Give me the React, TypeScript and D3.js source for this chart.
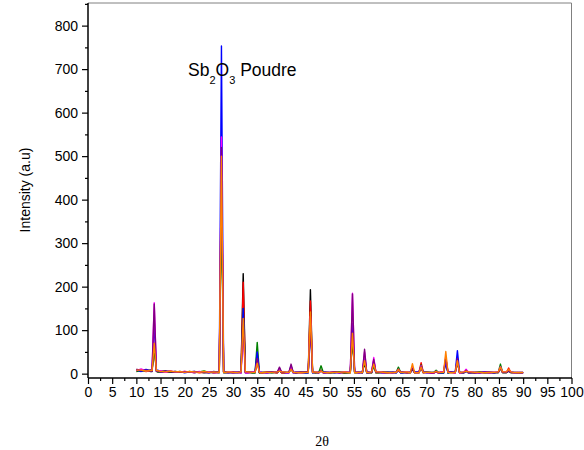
import React, { useEffect, useRef } from 'react';
import * as d3 from 'd3';

// 2theta positions of the diffraction peaks (shared by every scan)
const peakPositions = [13.7, 27.6, 32.1, 35.0, 39.6, 42.0, 46.0, 48.2, 54.7, 57.2, 59.1, 64.2, 67.1, 68.9, 72.0, 74.0, 76.4, 78.2, 85.3, 87.0];

// baseline sample angles
const baseAngles = [10, 11, 12, 13, 14.5, 15, 16, 17, 18, 19, 20, 21, 22, 23, 24, 25, 26, 28.5, 29, 30, 31, 33, 34, 36, 37, 38, 40.5, 41, 43, 44, 45, 47, 49, 50, 51, 52, 53, 55.5, 56, 58, 60, 61, 62, 63, 65, 66, 68, 70, 71, 73, 75, 77, 79, 80, 81, 82, 83, 84, 86, 88, 89, 90];

// baseline noise per scan
const blackBase = [8, 6, 9, 5, 5, 4, 5, 3, 4, 3, 4, 3, 3, 4, 2, 3, 3, 2, 3, 3, 2, 3, 2, 3, 2, 3, 2, 2, 3, 2, 2, 3, 2, 3, 2, 3, 2, 2, 3, 2, 3, 2, 2, 3, 2, 3, 2, 3, 2, 2, 3, 2, 3, 2, 3, 2, 2, 3, 2, 3, 2, 2];
const redBase = [6, 9, 5, 7, 4, 6, 4, 5, 3, 4, 5, 3, 4, 2, 3, 4, 2, 3, 2, 4, 3, 2, 3, 2, 4, 3, 2, 3, 2, 4, 3, 2, 3, 2, 4, 3, 2, 3, 2, 3, 2, 4, 3, 2, 3, 2, 3, 3, 2, 4, 3, 2, 3, 2, 3, 4, 2, 3, 3, 2, 3, 2];
const greenBase = [5, 7, 6, 9, 3, 5, 6, 3, 5, 4, 3, 5, 2, 4, 6, 3, 2, 4, 3, 2, 3, 4, 2, 3, 3, 2, 4, 3, 2, 3, 4, 2, 3, 2, 3, 4, 2, 3, 2, 3, 2, 3, 4, 2, 3, 3, 2, 4, 3, 2, 3, 3, 2, 3, 4, 2, 3, 2, 3, 2, 3, 2];
const blueBase = [9, 5, 10, 6, 8, 3, 5, 6, 3, 5, 2, 4, 5, 3, 4, 2, 5, 3, 2, 3, 4, 2, 4, 3, 2, 4, 3, 2, 4, 3, 2, 3, 4, 2, 3, 2, 4, 3, 2, 4, 3, 2, 3, 4, 2, 3, 4, 2, 3, 2, 4, 3, 2, 3, 2, 4, 3, 2, 4, 3, 2, 3];
const magentaBase = [7, 11, 6, 8, 5, 7, 3, 6, 4, 3, 5, 4, 2, 5, 3, 4, 2, 3, 4, 2, 3, 2, 4, 3, 2, 3, 4, 2, 3, 2, 3, 4, 2, 3, 3, 2, 4, 3, 2, 3, 4, 2, 3, 2, 3, 4, 2, 3, 2, 4, 3, 2, 4, 3, 2, 3, 2, 3, 4, 2, 3, 2];
const purpleBase = [10, 7, 8, 6, 6, 4, 6, 4, 5, 3, 4, 4, 5, 3, 3, 2, 4, 3, 3, 2, 3, 4, 3, 2, 3, 4, 3, 3, 2, 3, 4, 3, 2, 3, 4, 2, 3, 3, 4, 2, 3, 3, 2, 3, 4, 2, 3, 3, 2, 3, 4, 3, 2, 3, 2, 3, 4, 2, 3, 3, 2, 3];
const orangeBase = [8, 8, 6, 7, 7, 5, 4, 6, 4, 5, 3, 5, 4, 3, 5, 3, 4, 3, 4, 3, 3, 4, 3, 2, 3, 3, 4, 3, 3, 2, 3, 4, 3, 2, 3, 3, 4, 2, 3, 3, 4, 3, 2, 3, 3, 4, 2, 3, 3, 3, 2, 3, 4, 3, 3, 2, 3, 3, 4, 3, 2, 3];

// peak maxima per scan, same order as peakPositions
const blackPeaks = [60, 472, 230, 30, 8, 12, 193, 8, 80, 25, 18, 8, 10, 12, 5, 30, 30, 6, 12, 6];
const redPeaks = [70, 440, 210, 35, 8, 15, 167, 8, 100, 35, 25, 8, 12, 25, 5, 35, 28, 6, 14, 13];
const greenPeaks = [60, 400, 150, 72, 6, 10, 120, 18, 90, 30, 20, 15, 12, 20, 8, 30, 25, 6, 22, 6];
const bluePeaks = [120, 753, 150, 50, 12, 18, 110, 6, 115, 40, 30, 10, 12, 15, 5, 25, 53, 6, 14, 6];
const magentaPeaks = [163, 544, 96, 30, 10, 15, 132, 6, 185, 50, 37, 10, 15, 18, 5, 40, 30, 10, 16, 8];
const purplePeaks = [160, 520, 110, 35, 15, 22, 104, 6, 183, 56, 33, 10, 12, 16, 5, 36, 35, 8, 14, 6];
const orangePeaks = [70, 500, 127, 24, 6, 10, 142, 6, 93, 30, 22, 10, 23, 15, 5, 51, 30, 6, 15, 10];

const scans = [
  { color: '#000000', base: blackBase, peaks: blackPeaks },
  { color: '#ff0000', base: redBase, peaks: redPeaks },
  { color: '#008000', base: greenBase, peaks: greenPeaks },
  { color: '#0000ff', base: blueBase, peaks: bluePeaks },
  { color: '#ff00ff', base: magentaBase, peaks: magentaPeaks },
  { color: '#800080', base: purpleBase, peaks: purplePeaks },
  { color: '#ff8000', base: orangeBase, peaks: orangePeaks },
];

const xTicks = [0, 5, 10, 15, 20, 25, 30, 35, 40, 45, 50, 55, 60, 65, 70, 75, 80, 85, 90, 95, 100];
const yTicks = [0, 100, 200, 300, 400, 500, 600, 700, 800];

const App = () => {
  const svgRef = useRef(null);

  useEffect(() => {
    document.body.style.margin = '0';
    const svg = d3.select(svgRef.current);
    svg.selectAll('*').remove();

    const left = 88, right = 571.5, top = 3, bottom = 378;
    const x = d3.scaleLinear().domain([0, 100]).range([left, right]);
    const y = d3.scaleLinear().domain([-10, 852]).range([bottom, top]);
    const font = "'Liberation Sans', Arial, sans-serif";

    // frame
    svg.append('line').attr('x1', left).attr('x2', right).attr('y1', top).attr('y2', top)
      .attr('stroke', '#808080').attr('stroke-width', 1);
    svg.append('line').attr('x1', right).attr('x2', right).attr('y1', top).attr('y2', bottom)
      .attr('stroke', '#808080').attr('stroke-width', 1);

    // build each scan: baseline samples plus a narrow triangle per peak
    const line = d3.line<[number, number]>().x(d => x(d[0])).y(d => y(d[1]));
    const g = svg.append('g');
    scans.forEach(s => {
      const pts: [number, number][] = [];
      baseAngles.forEach((a, i) => {
        if (peakPositions.some(p => Math.abs(p - a) < 0.5)) return;
        pts.push([a, s.base[i]]);
      });
      peakPositions.forEach((p, i) => {
        const j = d3.minIndex(baseAngles, a => Math.abs(a - p));
        const foot = s.base[j];
        pts.push([p - 0.45, foot], [p, s.peaks[i]], [p + 0.45, foot]);
      });
      pts.sort((a, b) => a[0] - b[0]);
      g.append('path').datum(pts)
        .attr('d', line)
        .attr('fill', 'none')
        .attr('stroke', s.color)
        .attr('stroke-width', 1.4)
        .attr('stroke-linejoin', 'round');
    });

    // x axis
    const xAxis = svg.append('g').attr('transform', `translate(0,${bottom})`)
      .call(d3.axisBottom(x).tickValues(xTicks).tickSize(6).tickPadding(3).tickFormat(d3.format('d')));
    svg.append('g').attr('transform', `translate(0,${bottom})`)
      .call(d3.axisBottom(x).tickValues(xTicks.slice(0, -1).map(t => t + 2.5)).tickSize(3).tickFormat(() => ''))
      .call(a => a.select('.domain').remove());

    // y axis
    const yAxis = svg.append('g').attr('transform', `translate(${left},0)`)
      .call(d3.axisLeft(y).tickValues(yTicks).tickSize(6).tickPadding(4).tickFormat(d3.format('d')));
    svg.append('g').attr('transform', `translate(${left},0)`)
      .call(d3.axisLeft(y).tickValues(yTicks.map(t => t + 50)).tickSize(3).tickFormat(() => ''))
      .call(a => a.select('.domain').remove());

    [xAxis, yAxis].forEach(a => {
      a.select('.domain').remove();
      a.selectAll('text').attr('font-family', font).attr('font-size', 14).attr('fill', '#000');
    });
    svg.selectAll('.tick line').attr('stroke', '#000').attr('stroke-width', 1.2);

    svg.append('line').attr('x1', left).attr('x2', right + 0.5).attr('y1', bottom).attr('y2', bottom)
      .attr('stroke', '#000').attr('stroke-width', 1.5);
    svg.append('line').attr('x1', left).attr('x2', left).attr('y1', top).attr('y2', bottom)
      .attr('stroke', '#000').attr('stroke-width', 1.5);

    // axis titles
    svg.append('text')
      .attr('transform', `translate(30,190) rotate(-90)`)
      .attr('text-anchor', 'middle')
      .attr('font-family', font).attr('font-size', 14)
      .text('Intensity (a.u)');
    svg.append('text')
      .attr('x', 322).attr('y', 446)
      .attr('text-anchor', 'middle')
      .attr('font-family', "'Liberation Serif', 'Times New Roman', serif").attr('font-size', 14)
      .text('2θ');

    // annotation
    const ann = svg.append('text')
      .attr('x', 188).attr('y', 76)
      .attr('font-family', font).attr('font-size', 17.5);
    ann.append('tspan').text('Sb');
    ann.append('tspan').attr('font-size', 11).attr('dy', 8).text('2');
    ann.append('tspan').attr('dy', -8).text('O');
    ann.append('tspan').attr('font-size', 11).attr('dy', 8).text('3');
    ann.append('tspan').attr('dy', -8).text(' Poudre');
  }, []);

  return <svg ref={svgRef} width={584} height={450} style={{ display: 'block' }}></svg>;
};

export default App;
